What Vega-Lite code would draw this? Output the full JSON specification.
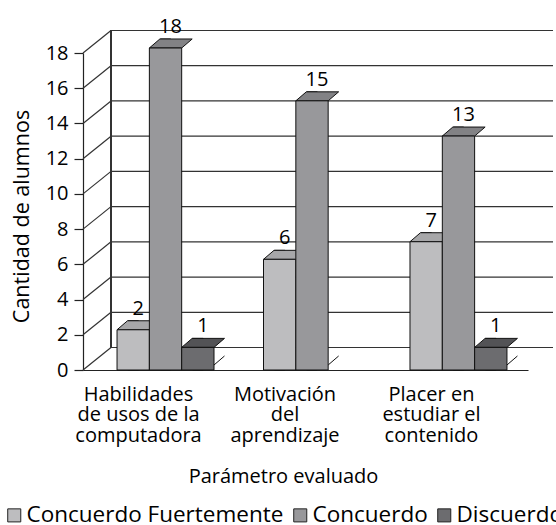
{
  "$schema": "https://vega.github.io/schema/vega-lite/v6.json",
  "width": 445,
  "height": 317,
  "autosize": {"type": "none"},
  "padding": {"left": 83, "top": 53, "right": 28, "bottom": 155},
  "config": {
    "font": "Open Sans",
    "view": {"stroke": null},
    "axis": {"labelColor": "#000", "titleColor": "#000", "titleFontWeight": "normal", "domainColor": "#222", "tickColor": "#222", "grid": false},
    "axisY": {"titleFontSize": 21.5, "titlePadding": 12, "titleY": 163, "tickCount": 10, "tickSize": 9, "tickWidth": 1.2, "domainWidth": 1.2, "labelFontSize": 20, "labelPadding": 6},
    "legend": {"labelColor": "#000"}
  },
  "resolve": {"scale": {"x": "independent"}},
  "layer": [
    {
      "data": {"values": [{"nivel": 0}, {"nivel": 2}, {"nivel": 4}, {"nivel": 6}, {"nivel": 8}, {"nivel": 10}, {"nivel": 12}, {"nivel": 14}, {"nivel": 16}, {"nivel": 18}]},
      "layer": [
        {
          "mark": {"type": "rule", "color": "#333", "strokeWidth": 1.2, "xOffset": 28, "x2Offset": 25, "yOffset": -22.5},
          "encoding": {
            "x": {"datum": 0, "type": "quantitative", "scale": {"domain": [0, 1], "nice": false}, "axis": null},
            "x2": {"datum": 1},
            "y": {"field": "nivel", "type": "quantitative", "title": "Cantidad de alumnos"}
          }
        },
        {
          "mark": {"type": "rule", "color": "#333", "strokeWidth": 1.2, "x2Offset": 28, "y2Offset": -22.5},
          "encoding": {
            "x": {"datum": 0, "type": "quantitative", "axis": null},
            "x2": {"datum": 0},
            "y": {"field": "nivel", "type": "quantitative", "title": "Cantidad de alumnos"},
            "y2": {"field": "nivel"}
          }
        },
        {
          "mark": {"type": "rule", "color": "#333", "strokeWidth": 1.2, "xOffset": 28, "yOffset": -22.5, "y2Offset": -22.5},
          "encoding": {
            "x": {"datum": 0, "type": "quantitative", "axis": null},
            "y": {"datum": 0, "type": "quantitative", "title": "Cantidad de alumnos"},
            "y2": {"datum": 18}
          }
        }
      ]
    },
    {
      "data": {"values": [
        {"parametro": "Habilidades de usos de la computadora", "respuesta": "Concuerdo Fuertemente", "alumnos": 2},
        {"parametro": "Habilidades de usos de la computadora", "respuesta": "Concuerdo", "alumnos": 18},
        {"parametro": "Habilidades de usos de la computadora", "respuesta": "Discuerdo", "alumnos": 1},
        {"parametro": "Motivación del aprendizaje", "respuesta": "Concuerdo Fuertemente", "alumnos": 6},
        {"parametro": "Motivación del aprendizaje", "respuesta": "Concuerdo", "alumnos": 15},
        {"parametro": "Motivación del aprendizaje", "respuesta": "Discuerdo", "alumnos": 0},
        {"parametro": "Placer en estudiar el contenido", "respuesta": "Concuerdo Fuertemente", "alumnos": 7},
        {"parametro": "Placer en estudiar el contenido", "respuesta": "Concuerdo", "alumnos": 13},
        {"parametro": "Placer en estudiar el contenido", "respuesta": "Discuerdo", "alumnos": 1}
      ]},
      "transform": [{"filter": "datum.alumnos > 0"}],
      "encoding": {
        "x": {
          "field": "parametro", "type": "nominal",
          "sort": ["Habilidades de usos de la computadora", "Motivación del aprendizaje", "Placer en estudiar el contenido"],
          "scale": {"paddingInner": 0.338, "paddingOuter": 0.188, "align": 0.618},
          "axis": {
            "title": "Parámetro evaluado", "titleFontSize": 20, "titleX": 200, "titleY": 112, "titleAlign": "center", "titleBaseline": "alphabetic", "titleAnchor": null,
            "labelAngle": 0, "ticks": false, "tickSize": 0, "labelPadding": 14, "labelOffset": -27,
            "labelFontSize": 20, "labelLineHeight": 20.5, "labelBaseline": "top", "labelLimit": 300,
            "labelExpr": "datum.value == 'Habilidades de usos de la computadora' ? ['Habilidades', 'de usos de la', 'computadora'] : datum.value == 'Motivación del aprendizaje' ? ['Motivación', 'del', 'aprendizaje'] : ['Placer en', 'estudiar el', 'contenido']",
            "domainWidth": 1.2, "labelOverlap": false
          }
        },
        "xOffset": {
          "field": "respuesta", "type": "nominal",
          "scale": {"domain": ["Concuerdo Fuertemente", "Concuerdo", "Discuerdo"], "paddingInner": 0, "paddingOuter": 0}
        },
        "y": {
          "field": "alumnos", "type": "quantitative", "stack": null, "title": "Cantidad de alumnos",
          "scale": {"domain": [0, 18], "nice": false}
        }
      },
      "resolve": {"scale": {"fill": "independent"}},
      "layer": [
        {
          "mark": {"type": "bar", "width": 10.5, "xOffset": 21.4, "yOffset": -14, "y2Offset": -5, "stroke": "#111", "strokeWidth": 1},
          "encoding": {
            "fill": {"field": "respuesta", "type": "nominal", "scale": {"domain": ["Concuerdo Fuertemente", "Concuerdo", "Discuerdo"], "range": ["#8a8a8c", "#6c6c6f", "#3f3f42"]}, "legend": null}
          }
        },
        {
          "mark": {"type": "point", "shape": "M1.02,0.06L1.72,0.06L1.72,-0.53Z", "size": 1045, "filled": true, "color": "white", "opacity": 1, "strokeWidth": 0, "yOffset": -5},
          "encoding": {"y": {"datum": 0, "type": "quantitative", "title": "Cantidad de alumnos"}}
        },
        {
          "mark": {"type": "point", "shape": "M1,0L1.649,-0.557", "size": 1045, "filled": false, "color": "#111", "opacity": 1, "strokeWidth": 1, "yOffset": -5},
          "encoding": {"y": {"datum": 0, "type": "quantitative", "title": "Cantidad de alumnos"}}
        },
        {
          "mark": {"type": "point", "shape": "M-1,0L1,0L1.649,-0.557L-0.351,-0.557Z", "size": 1045, "filled": true, "stroke": "#111", "strokeWidth": 1, "opacity": 1, "yOffset": -5},
          "encoding": {
            "fill": {"field": "respuesta", "type": "nominal", "scale": {"domain": ["Concuerdo Fuertemente", "Concuerdo", "Discuerdo"], "range": ["#a7a7a9", "#828285", "#535356"]}, "legend": null}
          }
        },
        {
          "mark": {"type": "bar", "stroke": "#111", "strokeWidth": 1, "yOffset": -5, "y2Offset": -5},
          "encoding": {
            "color": {
              "field": "respuesta", "type": "nominal",
              "scale": {"domain": ["Concuerdo Fuertemente", "Concuerdo", "Discuerdo"], "range": ["#bdbdbf", "#98989b", "#6c6c6f"]},
              "legend": {
                "orient": "none", "legendX": -80, "legendY": 451, "direction": "horizontal", "title": null,
                "symbolType": "square", "symbolSize": 170, "symbolStrokeColor": "#222", "symbolStrokeWidth": 1,
                "labelFontSize": 22.5, "labelOffset": 1, "columnPadding": 5, "labelLimit": 400
              }
            }
          }
        },
        {
          "mark": {"type": "text", "dx": 5, "dy": -20, "baseline": "alphabetic", "fontSize": 20, "color": "#000"},
          "encoding": {"text": {"field": "alumnos", "type": "quantitative"}}
        }
      ]
    }
  ]
}
